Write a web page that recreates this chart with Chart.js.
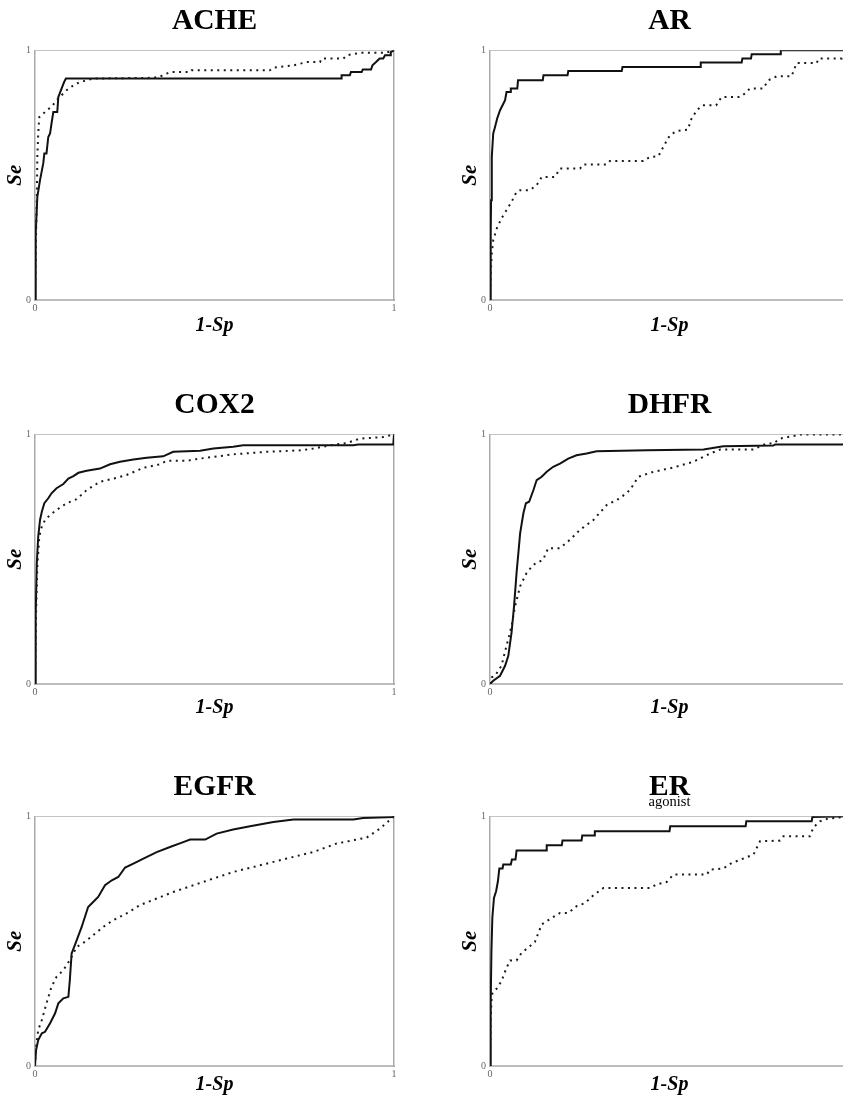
<!DOCTYPE html>
<html><head><meta charset="utf-8">
<script src="https://cdn.jsdelivr.net/npm/chart.js@4.4.1/dist/chart.umd.min.js"></script>
<style>
html,body{margin:0;padding:0;background:#fff;overflow:hidden;}
#wrap{position:relative;width:843px;height:1101px;overflow:hidden;background:#fff;}
#wrap canvas{position:absolute;}
</style></head><body><div id="wrap"></div>
<script>
const panelTitles = ['ACHE','AR','COX2','DHFR','EGFR','ER'];
const panelSubtitles = ['','','','','','agonist'];
const xAxisTitle = '1-Sp';
const yAxisTitle = 'Se';
const tickValues = [0, 1];
const tickLabels = ['0', '1'];

const ACHE_solid = [[0,0],[0.002,0.267],[0.0065,0.413],[0.014,0.48],[0.023,0.547],[0.026,0.587],[0.032,0.587],[0.037,0.653],[0.042,0.667],[0.046,0.707],[0.051,0.753],[0.062,0.753],[0.065,0.813],[0.074,0.847],[0.081,0.873],[0.086,0.887],[0.854,0.887],[0.854,0.9],[0.877,0.9],[0.88,0.913],[0.91,0.913],[0.913,0.923],[0.936,0.923],[0.94,0.94],[0.95,0.953],[0.96,0.967],[0.97,0.967],[0.975,0.98],[0.989,0.98],[0.991,0.993],[1,1]];
const ACHE_dotted = [[0,0],[0.003,0.267],[0.005,0.4],[0.0065,0.573],[0.009,0.667],[0.012,0.733],[0.019,0.74],[0.032,0.76],[0.046,0.773],[0.06,0.8],[0.074,0.82],[0.088,0.84],[0.107,0.86],[0.125,0.873],[0.146,0.88],[0.16,0.887],[0.33,0.89],[0.348,0.895],[0.367,0.907],[0.376,0.913],[0.432,0.913],[0.436,0.92],[0.654,0.92],[0.664,0.931],[0.72,0.94],[0.757,0.953],[0.794,0.953],[0.798,0.967],[0.859,0.967],[0.868,0.98],[0.905,0.99],[0.975,0.99],[1,1]];

const AR_solid = [[0,0],[0.002,0.267],[0.003,0.4],[0.005,0.573],[0.009,0.667],[0.014,0.693],[0.02,0.727],[0.028,0.76],[0.035,0.78],[0.042,0.8],[0.046,0.833],[0.056,0.833],[0.058,0.847],[0.076,0.847],[0.078,0.88],[0.147,0.88],[0.149,0.9],[0.216,0.9],[0.218,0.917],[0.367,0.917],[0.369,0.933],[0.585,0.933],[0.587,0.951],[0.701,0.951],[0.703,0.967],[0.727,0.967],[0.729,0.984],[0.808,0.984],[0.81,1],[1,1]];
const AR_dotted = [[0,0],[0.002,0.107],[0.005,0.187],[0.009,0.24],[0.019,0.287],[0.032,0.327],[0.046,0.36],[0.06,0.393],[0.074,0.433],[0.084,0.44],[0.111,0.44],[0.13,0.46],[0.144,0.493],[0.181,0.493],[0.195,0.527],[0.251,0.527],[0.26,0.543],[0.325,0.543],[0.334,0.557],[0.427,0.557],[0.446,0.573],[0.469,0.576],[0.488,0.627],[0.501,0.66],[0.52,0.677],[0.552,0.683],[0.559,0.72],[0.576,0.76],[0.592,0.78],[0.63,0.78],[0.645,0.813],[0.696,0.813],[0.71,0.827],[0.724,0.847],[0.761,0.847],[0.775,0.88],[0.799,0.896],[0.84,0.896],[0.854,0.949],[0.91,0.949],[0.915,0.967],[0.98,0.967],[0.983,0.98],[1,1]];

const COX2_solid = [[0,0],[0.002,0.286],[0.005,0.485],[0.009,0.591],[0.014,0.657],[0.019,0.69],[0.026,0.724],[0.037,0.744],[0.046,0.764],[0.06,0.784],[0.079,0.801],[0.093,0.823],[0.107,0.833],[0.121,0.846],[0.144,0.854],[0.181,0.863],[0.209,0.88],[0.237,0.89],[0.274,0.899],[0.311,0.906],[0.357,0.912],[0.385,0.93],[0.46,0.934],[0.497,0.943],[0.552,0.95],[0.58,0.956],[0.887,0.956],[0.9,0.959],[0.998,0.959],[1,1]];
const COX2_dotted = [[0,0],[0.003,0.286],[0.0065,0.471],[0.012,0.591],[0.019,0.631],[0.028,0.657],[0.042,0.677],[0.06,0.697],[0.088,0.724],[0.116,0.74],[0.144,0.777],[0.181,0.81],[0.228,0.826],[0.255,0.837],[0.302,0.866],[0.348,0.88],[0.367,0.894],[0.422,0.894],[0.46,0.903],[0.552,0.92],[0.645,0.93],[0.738,0.936],[0.775,0.943],[0.822,0.956],[0.868,0.965],[0.905,0.983],[0.97,0.989],[1,1]];

const DHFR_solid = [[0,0],[0.009,0.013],[0.028,0.033],[0.042,0.073],[0.051,0.113],[0.06,0.206],[0.067,0.312],[0.074,0.445],[0.084,0.604],[0.093,0.684],[0.1,0.724],[0.109,0.73],[0.121,0.777],[0.13,0.817],[0.144,0.83],[0.158,0.85],[0.176,0.87],[0.195,0.883],[0.218,0.903],[0.241,0.916],[0.269,0.923],[0.297,0.932],[0.437,0.936],[0.595,0.939],[0.65,0.952],[0.789,0.955],[0.794,0.959],[0.998,0.959],[1,1]];
const DHFR_dotted = [[0,0],[0.005,0.027],[0.014,0.033],[0.032,0.073],[0.046,0.153],[0.06,0.232],[0.07,0.312],[0.084,0.392],[0.102,0.445],[0.121,0.478],[0.148,0.498],[0.162,0.544],[0.195,0.544],[0.223,0.578],[0.251,0.618],[0.288,0.657],[0.325,0.717],[0.362,0.744],[0.39,0.777],[0.413,0.83],[0.455,0.85],[0.511,0.867],[0.566,0.89],[0.613,0.923],[0.641,0.939],[0.733,0.939],[0.77,0.963],[0.789,0.963],[0.808,0.983],[0.864,0.999],[1,1]];

const EGFR_solid = [[0,0],[0.003,0.064],[0.009,0.104],[0.019,0.131],[0.028,0.137],[0.042,0.171],[0.056,0.211],[0.065,0.251],[0.079,0.271],[0.093,0.277],[0.097,0.344],[0.102,0.451],[0.111,0.484],[0.13,0.557],[0.148,0.637],[0.162,0.657],[0.176,0.677],[0.195,0.724],[0.214,0.744],[0.232,0.757],[0.251,0.795],[0.274,0.811],[0.302,0.831],[0.339,0.857],[0.376,0.877],[0.413,0.897],[0.432,0.907],[0.474,0.907],[0.506,0.931],[0.552,0.947],[0.599,0.96],[0.664,0.977],[0.72,0.987],[0.887,0.987],[0.914,0.993],[1,0.997]];
const EGFR_dotted = [[0,0],[0.003,0.077],[0.009,0.144],[0.019,0.184],[0.032,0.251],[0.046,0.317],[0.06,0.357],[0.079,0.384],[0.097,0.424],[0.116,0.477],[0.139,0.497],[0.162,0.524],[0.19,0.557],[0.218,0.584],[0.255,0.611],[0.292,0.644],[0.339,0.671],[0.385,0.697],[0.441,0.724],[0.497,0.751],[0.552,0.777],[0.627,0.804],[0.701,0.831],[0.775,0.857],[0.84,0.891],[0.924,0.915],[0.961,0.951],[1,1]];

const ER_solid = [[0,0],[0.002,0.26],[0.004,0.46],[0.0065,0.593],[0.011,0.673],[0.017,0.7],[0.022,0.74],[0.026,0.791],[0.035,0.791],[0.037,0.807],[0.058,0.807],[0.061,0.827],[0.071,0.827],[0.074,0.863],[0.156,0.863],[0.158,0.884],[0.2,0.884],[0.202,0.903],[0.255,0.903],[0.257,0.923],[0.29,0.923],[0.292,0.94],[0.5,0.94],[0.502,0.96],[0.712,0.96],[0.714,0.98],[0.896,0.98],[0.898,0.997],[1,1]];
const ER_dotted = [[0,0],[0.002,0.193],[0.005,0.287],[0.019,0.311],[0.032,0.34],[0.046,0.393],[0.056,0.423],[0.074,0.423],[0.088,0.453],[0.111,0.48],[0.125,0.497],[0.144,0.567],[0.172,0.593],[0.195,0.613],[0.218,0.613],[0.241,0.64],[0.265,0.653],[0.288,0.684],[0.316,0.713],[0.446,0.713],[0.464,0.727],[0.492,0.737],[0.511,0.767],[0.604,0.767],[0.613,0.787],[0.65,0.791],[0.673,0.813],[0.706,0.831],[0.734,0.847],[0.752,0.9],[0.808,0.903],[0.817,0.92],[0.891,0.92],[0.901,0.956],[0.919,0.98],[0.94,0.99],[1,1]];

const solidSeries = [ACHE_solid, AR_solid, COX2_solid, DHFR_solid, EGFR_solid, ER_solid];
const dottedSeries = [ACHE_dotted, AR_dotted, COX2_dotted, DHFR_dotted, EGFR_dotted, ER_dotted];

// layout (positions of each panel canvas)
const panelLayout = [
  {left: 0,   top: 0,   xTitlePad: 2},
  {left: 455, top: 0,   xTitlePad: 2},
  {left: 0,   top: 384, xTitlePad: 4},
  {left: 455, top: 384, xTitlePad: 4},
  {left: 0,   top: 766, xTitlePad: 9},
  {left: 455, top: 766, xTitlePad: 9}
];

const serif = "'Liberation Serif', 'Times New Roman', serif";
const toPts = arr => arr.map(([x, y]) => ({x, y}));
const tickCb = v => { const i = tickValues.indexOf(v); return i >= 0 ? tickLabels[i] : ''; };

const wrap = document.getElementById('wrap');
panelTitles.forEach((title, i) => {
  const L = panelLayout[i];
  const sub = panelSubtitles[i];
  const hasSub = !!sub;
  const c = document.createElement('canvas');
  c.width = 420; c.height = 340;
  c.style.left = L.left + 'px'; c.style.top = L.top + 'px';
  c.style.width = '420px'; c.style.height = '340px';
  wrap.appendChild(c);
  new Chart(c, {
    type: 'scatter',
    data: {
      datasets: [
        {data: toPts(dottedSeries[i]), showLine: true, borderColor: '#1a1a1a', borderWidth: 2,
         borderDash: [2, 4.5], borderCapStyle: 'butt', pointRadius: 0, pointHoverRadius: 0, fill: false, tension: 0},
        {data: toPts(solidSeries[i]), showLine: true, borderColor: '#111', borderWidth: 2,
         pointRadius: 0, pointHoverRadius: 0, fill: false, tension: 0}
      ]
    },
    options: {
      responsive: false, animation: false, devicePixelRatio: 1,
      events: [],
      layout: {padding: {left: 0, right: 26, top: 0, bottom: 0}},
      plugins: {
        legend: {display: false},
        tooltip: {enabled: false},
        title: {display: true, text: title, color: '#000', fullSize: false,
          font: {family: serif, size: 29.5, weight: 'bold', lineHeight: 0.7},
          padding: {top: 10.85, bottom: hasSub ? 0 : 18.85}},
        subtitle: {display: hasSub, text: sub, color: '#000', fullSize: false,
          font: {family: serif, size: 14.5, weight: 'normal', lineHeight: 0.7},
          padding: {top: 0, bottom: 8.7}}
      },
      scales: {
        x: {type: 'linear', position: 'bottom', min: 0, max: 1,
          afterFit: s => { s.height = 40; },
          grid: {display: false, drawTicks: false},
          border: {display: true, color: '#bdbdbd', width: 2},
          ticks: {stepSize: 1, padding: 2, color: '#666', font: {family: serif, size: 10}, callback: tickCb, maxRotation: 0},
          title: {display: true, text: xAxisTitle, color: '#000',
            font: {family: serif, size: 20, weight: 'bold', style: 'italic', lineHeight: 1.2},
            padding: {top: 0, bottom: L.xTitlePad}}
        },
        y: {type: 'linear', position: 'left', min: 0, max: 1,
          afterFit: s => { s.width = 35; },
          grid: {display: false, drawTicks: false},
          border: {display: true, color: '#aaa', width: 1.5},
          ticks: {stepSize: 1, padding: 4, color: '#666', font: {family: serif, size: 10}, callback: tickCb},
          title: {display: true, text: yAxisTitle, color: '#000',
            font: {family: serif, size: 21, weight: 'bold', style: 'italic', lineHeight: 1.2},
            padding: {top: 3, bottom: 0}}
        },
        x2: {type: 'linear', position: 'top', min: 0, max: 1, display: true,
          afterFit: s => { s.height = 0; },
          grid: {display: false, drawTicks: false},
          border: {display: true, color: '#c4c4c4', width: 1},
          ticks: {display: false}
        },
        y2: {type: 'linear', position: 'right', min: 0, max: 1, display: true,
          afterFit: s => { s.width = 0; },
          grid: {display: false, drawTicks: false},
          border: {display: true, color: '#aaa', width: 1.5},
          ticks: {display: false}
        }
      }
    }
  });
});
</script>
</body></html>
